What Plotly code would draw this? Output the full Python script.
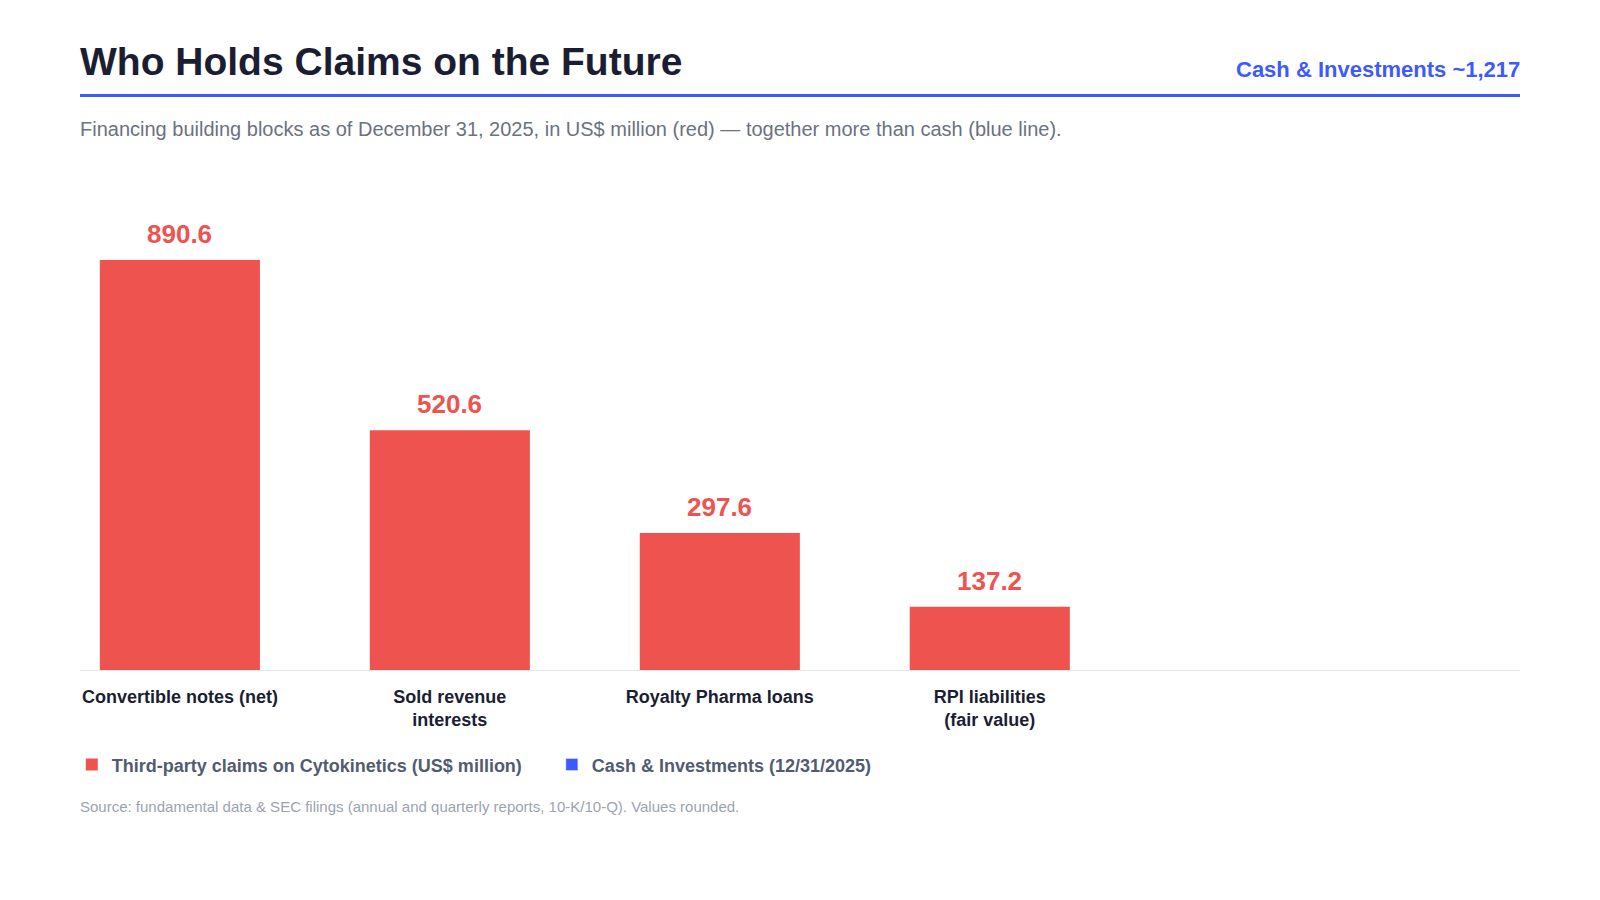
import plotly.graph_objects as go

# Financing claims as of 12/31/2025, US$ million
categories = ["Convertible notes (net)", "Sold revenue<br>interests",
              "Royalty Pharma loans", "RPI liabilities<br>(fair value)"]
claims = [890.6, 520.6, 297.6, 137.2]
cash_investments = 1217

RED = "#ef5350"
BLUE = "#3d5afe"
NAVY = "#1b1e33"
FONT = "Liberation Sans, Arial, sans-serif"

xs = list(range(len(categories)))

fig = go.Figure()

fig.add_trace(go.Bar(
    x=xs, y=claims, width=0.593,
    marker=dict(color=RED, line=dict(width=0)),
    name="Third-party claims on Cytokinetics (US$ million)" + "&nbsp;" * 5,
    hoverinfo="y",
))

# cash level sits above the visible range, only the legend entry shows
fig.add_trace(go.Bar(
    x=[None], y=[None],
    marker=dict(color=BLUE),
    name="Cash & Investments (12/31/2025)",
))
fig.add_hline(y=cash_investments, line=dict(color=BLUE, width=3))

# value labels
for x, v in zip(xs, claims):
    fig.add_annotation(x=x, y=v, text="<b>%.1f</b>" % v, showarrow=False,
                       yanchor="bottom", yshift=9,
                       font=dict(size=26, color=RED, family=FONT))

# header / footer text
fig.add_annotation(x=0, y=1.1994, xref="paper", yref="paper", xanchor="left", yanchor="middle",
                   xshift=-2, text="<b>Who Holds Claims on the Future</b>", showarrow=False,
                   font=dict(size=39, color=NAVY, family=FONT))
fig.add_annotation(x=1, y=1.1852, xref="paper", yref="paper", xanchor="right", yanchor="middle",
                   xshift=2, text="<b>Cash & Investments ~1,217</b>", showarrow=False,
                   font=dict(size=22, color=BLUE, family=FONT))
fig.add_annotation(x=0, y=1.0665, xref="paper", yref="paper", xanchor="left", yanchor="middle",
                   xshift=-2,
                   text="Financing building blocks as of December 31, 2025, in US$ million (red) "
                        "\u2014 together more than cash (blue line).",
                   showarrow=False, font=dict(size=20, color="#6b7280", family=FONT))
fig.add_annotation(x=0, y=-0.2696, xref="paper", yref="paper", xanchor="left", yanchor="middle",
                   xshift=-2,
                   text="Source: fundamental data & SEC filings (annual and quarterly reports, 10-K/10-Q). Values rounded.",
                   showarrow=False, font=dict(size=15, color="#9ca3af", family=FONT))
fig.add_shape(type="line", xref="paper", yref="paper", x0=0, x1=1, y0=1.1329, y1=1.1329,
              line=dict(color=BLUE, width=3))

fig.update_layout(
    width=1600, height=900,
    margin=dict(l=79.6, r=79.6, t=163.3, b=229.6),
    paper_bgcolor="white", plot_bgcolor="white",
    barmode="overlay",
    font=dict(family=FONT, color=NAVY),
    xaxis=dict(
        tickvals=xs, ticktext=["<b>%s</b>" % c for c in categories],
        range=[-0.370, 4.964], showgrid=False, zeroline=False,
        showline=True, linecolor="#e5e7eb", linewidth=1,
        ticks="", ticklabelstandoff=10,
        tickfont=dict(size=18, color=NAVY, family=FONT),
    ),
    yaxis=dict(range=[0, 1101], visible=False, fixedrange=True),
    legend=dict(
        orientation="h", x=-0.0057, y=-0.1871, xanchor="left", yanchor="middle",
        font=dict(size=18, color="#525c70", family=FONT),
        traceorder="normal",
    ),
    showlegend=True,
)
fig.for_each_trace(lambda t: t.update(name="<b>%s</b>" % t.name))

# drop the default page margin so the 1600x900 figure fits the window
fig.write_html("out.html", config={"displayModeBar": False},
               post_script="document.body.style.margin='0';")
